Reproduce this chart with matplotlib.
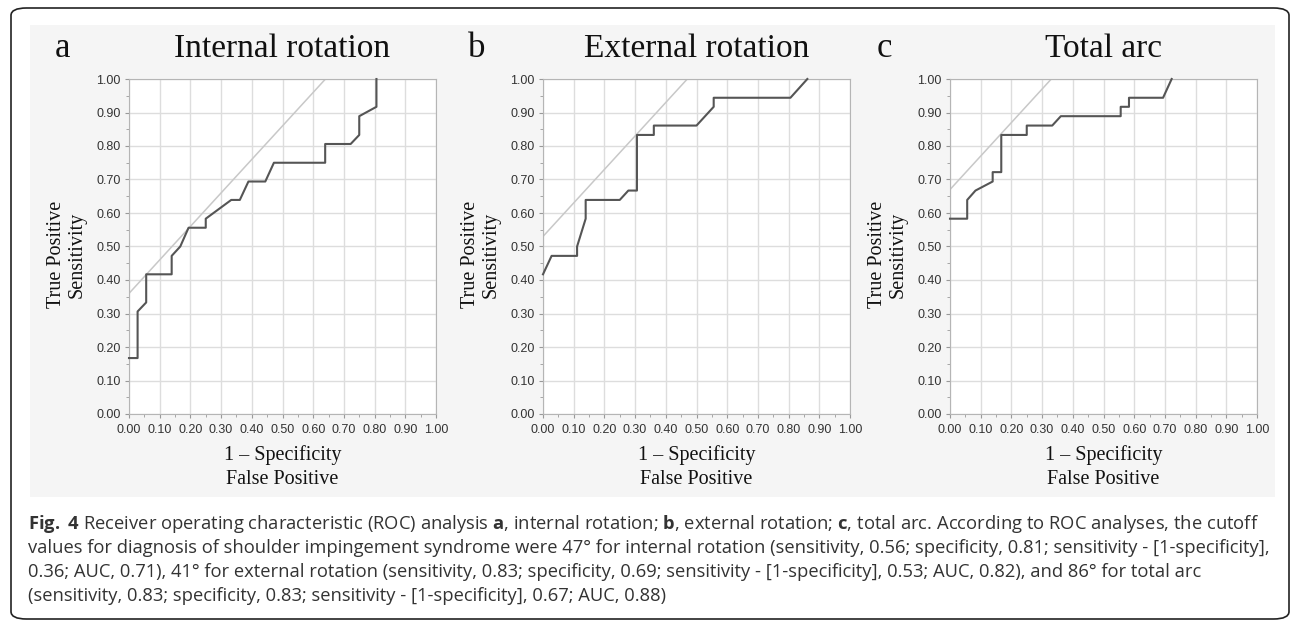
import matplotlib
matplotlib.use("Agg")
import matplotlib.pyplot as plt
import matplotlib.ticker as ticker
from matplotlib.patches import Rectangle, FancyBboxPatch

plt.rcParams.update({'mathtext.fontset': 'custom',
                     'mathtext.rm': 'Open Sans',
                     'mathtext.bf': 'Open Sans:bold'})

# ROC curves (1 - specificity, sensitivity)
fpr_ir = [0.0, 0.028, 0.028, 0.056, 0.056, 0.139, 0.139, 0.167, 0.194, 0.250, 0.250, 0.333,
          0.361, 0.389, 0.444, 0.472, 0.639, 0.639, 0.722, 0.750, 0.750, 0.806, 0.806]
tpr_ir = [0.167, 0.167, 0.306, 0.333, 0.417, 0.417, 0.472, 0.500, 0.556, 0.556, 0.583, 0.639,
          0.639, 0.694, 0.694, 0.750, 0.750, 0.806, 0.806, 0.833, 0.889, 0.917, 1.0]

fpr_er = [0.0, 0.028, 0.111, 0.111, 0.139, 0.139, 0.250, 0.278, 0.306, 0.306, 0.361, 0.361,
          0.500, 0.556, 0.556, 0.806, 0.861]
tpr_er = [0.417, 0.472, 0.472, 0.500, 0.583, 0.639, 0.639, 0.667, 0.667, 0.833, 0.833, 0.861,
          0.861, 0.917, 0.944, 0.944, 1.0]

fpr_ta = [0.0, 0.056, 0.056, 0.083, 0.139, 0.139, 0.167, 0.167, 0.250, 0.250, 0.333, 0.361,
          0.556, 0.556, 0.583, 0.583, 0.694, 0.722]
tpr_ta = [0.583, 0.583, 0.639, 0.667, 0.694, 0.722, 0.722, 0.833, 0.833, 0.861, 0.861, 0.889,
          0.889, 0.917, 0.917, 0.944, 0.944, 1.0]

# sensitivity - (1 - specificity) at the cutoff, used for the tangent line
youden = [0.36, 0.53, 0.67]
letters = ["a", "b", "c"]
titles = ["Internal rotation", "External rotation", "Total arc"]

caption = [
    r"$\mathbf{Fig.\;4}$ Receiver operating characteristic (ROC) analysis $\mathbf{a}$, internal rotation; "
    r"$\mathbf{b}$, external rotation; $\mathbf{c}$, total arc. According to ROC analyses, the cutoff",
    "values for diagnosis of shoulder impingement syndrome were 47° for internal rotation (sensitivity, 0.56; "
    "specificity, 0.81; sensitivity - [1-specificity],",
    "0.36; AUC, 0.71), 41° for external rotation (sensitivity, 0.83; specificity, 0.69; sensitivity - "
    "[1-specificity], 0.53; AUC, 0.82), and 86° for total arc",
    "(sensitivity, 0.83; specificity, 0.83; sensitivity - [1-specificity], 0.67; AUC, 0.88)",
]

W, H = 1290, 620
fig = plt.figure(figsize=(W / 100, H / 100), dpi=100)
fig.patch.set_facecolor("white")

# outer frame and grey panel
fig.patches.append(FancyBboxPatch((11 / W, 1 - 619 / H), 1278 / W, 611 / H,
                                  boxstyle="round,pad=0,rounding_size=0.012",
                                  transform=fig.transFigure, fill=False,
                                  edgecolor="#222222", lw=1.2, zorder=-2))
fig.patches.append(Rectangle((30 / W, 1 - 497 / H), 1245 / W, 472 / H,
                             transform=fig.transFigure, facecolor="#f5f5f5",
                             edgecolor="none", zorder=-1))

lefts = [129, 543, 950]
curves = [(fpr_ir, tpr_ir), (fpr_er, tpr_er), (fpr_ta, tpr_ta)]
serif = "Liberation Serif"

for i in range(3):
    ax = fig.add_axes([lefts[i] / W, 1 - 414 / H, 307 / W, 335 / H])
    ax.set_facecolor("white")
    ax.set_xlim(0, 1)
    ax.set_ylim(0, 1)
    ax.grid(True, color="#dddddd", lw=1)
    ax.set_axisbelow(True)
    for s in ax.spines.values():
        s.set_color("#b5b5b5")
    ax.xaxis.set_major_locator(ticker.MultipleLocator(0.1))
    ax.yaxis.set_major_locator(ticker.MultipleLocator(0.1))
    ax.xaxis.set_minor_locator(ticker.MultipleLocator(0.05))
    ax.yaxis.set_minor_locator(ticker.MultipleLocator(0.05))
    ax.xaxis.set_major_formatter(ticker.FormatStrFormatter("%.2f"))
    ax.yaxis.set_major_formatter(ticker.FormatStrFormatter("%.2f"))
    ax.tick_params(which="major", length=3, color="#999999", labelsize=9,
                   labelcolor="#333333", pad=3)
    ax.tick_params(which="minor", length=2, color="#999999")
    ax.tick_params(axis="x", which="major", pad=4.5)
    for lab in ax.get_xticklabels() + ax.get_yticklabels():
        lab.set_fontfamily("Liberation Sans")

    ax.axline((0, youden[i]), slope=1, color="#c8c8c8", lw=1.1, zorder=2)
    ax.plot(curves[i][0], curves[i][1], color="#555555", lw=1.5, zorder=3, clip_on=False)

    ax.text(0.5, 1.066, titles[i], transform=ax.transAxes, ha="center", va="baseline",
            fontsize=24, family=serif, color="#111111")
    ax.text(-0.215, 1.066, letters[i], transform=ax.transAxes, ha="center", va="baseline",
            fontsize=25, family=serif, color="#111111")
    ax.text(0.5, -0.137, "1 – Specificity", transform=ax.transAxes, ha="center",
            va="baseline", fontsize=14.5, family=serif, color="#111111")
    ax.text(0.5, -0.209, "False Positive", transform=ax.transAxes, ha="center",
            va="baseline", fontsize=14.5, family=serif, color="#111111")
    ax.text(-0.202, 0.475, "True Positive\nSensitivity", transform=ax.transAxes,
            ha="center", va="center", rotation=90, fontsize=14.5, family=serif,
            color="#111111", linespacing=1.1, multialignment="center")

base_y = [529, 553, 577, 601]
for line, y in zip(caption, base_y):
    fig.text(28 / W, 1 - y / H, line, ha="left", va="baseline", fontsize=13.2,
             family="Open Sans", color="#333333")

fig.savefig("out.png", dpi=100, facecolor="white")
